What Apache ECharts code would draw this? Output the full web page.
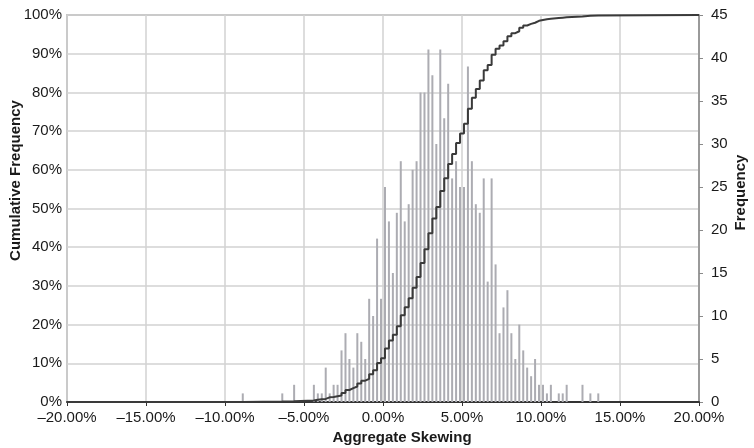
<!DOCTYPE html>
<html>
<head>
<meta charset="utf-8">
<script src="https://cdn.jsdelivr.net/npm/echarts@6/dist/echarts.min.js"></script>
<style>
    html, body { margin: 0; padding: 0; background: #fff; }
    .skew_chart { width: 754px; height: 448px; }
</style>
</head>
<body>
<div class="skew_chart"></div>
<script>
// bin centres (%), only the bins that hold anything
var binCenters = [-8.875, -6.375, -5.625,
    -4.375, -4.125, -3.875, -3.625, -3.375, -3.125, -2.875, -2.625, -2.375, -2.125,
    -1.875, -1.625, -1.375, -1.125, -0.875, -0.625, -0.375, -0.125,
    0.125, 0.375, 0.625, 0.875, 1.125, 1.375, 1.625, 1.875, 2.125, 2.375,
    2.625, 2.875, 3.125, 3.375, 3.625, 3.875, 4.125, 4.375, 4.625, 4.875,
    5.125, 5.375, 5.625, 5.875, 6.125, 6.375, 6.625, 6.875, 7.125, 7.375,
    7.625, 7.875, 8.125, 8.375, 8.625, 8.875, 9.125, 9.375, 9.625, 9.875,
    10.125, 10.375, 10.625, 11.125, 11.375, 11.625, 12.625, 13.125, 13.625];
var frequencies = [1, 1, 2,
    2, 1, 1, 4, 1, 2, 2, 6, 8, 5,
    4, 8, 7, 5, 12, 10, 19, 12,
    25, 21, 15, 22, 28, 21, 23, 27, 28, 36,
    36, 41, 38, 30, 41, 33, 37, 26, 28, 25,
    25, 39, 28, 23, 22, 26, 14, 26, 16, 8,
    11, 13, 8, 5, 9, 6, 4, 3, 5, 2,
    2, 1, 2, 1, 1, 2, 2, 1, 1];
var xTicks = [-20, -15, -10, -5, 0, 5, 10, 15, 20];
var cumTicks = [0, 10, 20, 30, 40, 50, 60, 70, 80, 90, 100];
var freqTicks = [0, 5, 10, 15, 20, 25, 30, 35, 40, 45];

var barData = [];
var cumData = [[xTicks[0], 0]];
var total = 0;
for (var i = 0; i < frequencies.length; i++) total += frequencies[i];
var running = 0;
for (var i = 0; i < binCenters.length; i++) {
    running += frequencies[i];
    barData.push([binCenters[i], frequencies[i]]);
    cumData.push([binCenters[i], running / total * 100]);
}
cumData.push([xTicks[xTicks.length - 1], 100]);

var fontName = 'Liberation Sans, Arial, sans-serif';
var labelStyle = { color: '#1a1a1a', fontSize: 15, fontFamily: fontName };
var nameStyle = { color: '#1a1a1a', fontSize: 15, fontWeight: 'bold', fontFamily: fontName };

var myChart = echarts.init(document.querySelector('.skew_chart'), null, {renderer: 'canvas'});
var option = {
    animation: false,
    backgroundColor: '#fff',
    grid: {
        left: 67, right: 55, top: 15, bottom: 46,
        containLabel: false,
        outerBoundsMode: 'none',
        show: true, borderColor: '#9a9a9a', borderWidth: 1.5
    },
    xAxis: {
        type: 'value',
        min: xTicks[0],
        max: xTicks[xTicks.length - 1],
        interval: 5,
        name: 'Aggregate Skewing',
        nameLocation: 'middle',
        nameGap: 28,
        nameMoveOverlap: false,
        nameTextStyle: Object.assign({ padding: [0, 0, 0, 38] }, nameStyle),
        axisLine: { show: true, onZero: false, lineStyle: { color: '#333', width: 2 } },
        axisTick: { show: true, length: 4, lineStyle: { color: '#333' } },
        axisLabel: Object.assign({
            margin: 8,
            formatter: function (v) { return v.toFixed(2).replace('-', '\u2013') + '%'; }
        }, labelStyle),
        splitLine: { show: true, lineStyle: { color: '#d2d2d2', width: 1.5 } }
    },
    yAxis: [
        {
            type: 'value',
            min: cumTicks[0],
            max: cumTicks[cumTicks.length - 1],
            interval: 10,
            position: 'left',
            name: 'Cumulative Frequency',
            nameLocation: 'middle',
            nameRotate: 90,
            nameGap: 44,
            nameMoveOverlap: false,
            nameTextStyle: Object.assign({ padding: [0, 0, 0, 56] }, nameStyle),
            axisLine: { show: false },
            axisTick: { show: false },
            axisLabel: Object.assign({ margin: 5, formatter: '{value}%' }, labelStyle),
            splitLine: { show: true, lineStyle: { color: '#d2d2d2', width: 1.5 } }
        },
        {
            type: 'value',
            min: freqTicks[0],
            max: freqTicks[freqTicks.length - 1],
            interval: 5,
            position: 'right',
            name: 'Frequency',
            nameLocation: 'middle',
            nameRotate: 90,
            nameGap: 34,
            nameMoveOverlap: false,
            nameTextStyle: Object.assign({ padding: [0, 0, 0, 32] }, nameStyle),
            axisLine: { show: true, lineStyle: { color: '#8a8a8a', width: 1.5 } },
            axisTick: { show: true, length: 4, lineStyle: { color: '#8a8a8a' } },
            axisLabel: Object.assign({ margin: 12 }, labelStyle),
            splitLine: { show: false }
        }
    ],
    series: [
        {
            name: 'Frequency',
            type: 'bar',
            yAxisIndex: 1,
            barWidth: 2,
            itemStyle: { color: '#acacb2' },
            data: barData,
            z: 2
        },
        {
            name: 'Cumulative Frequency',
            type: 'line',
            yAxisIndex: 0,
            step: 'end',
            showSymbol: false,
            symbol: 'none',
            lineStyle: { color: '#3a3a3a', width: 2 },
            data: cumData,
            z: 3
        }
    ]
};
myChart.setOption(option);
</script>
</body>
</html>
